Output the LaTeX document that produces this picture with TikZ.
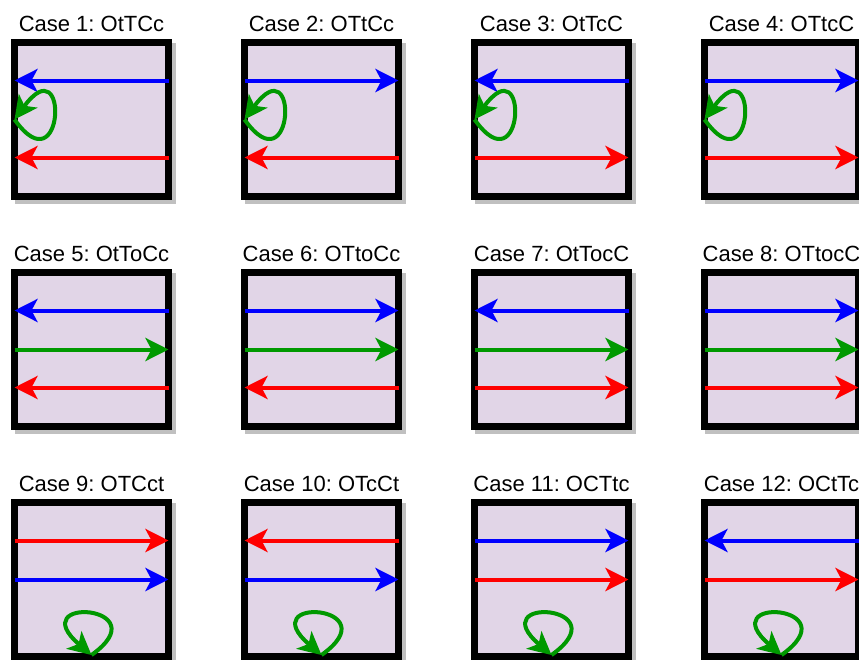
\documentclass[tikz,border=0pt]{standalone}
\usepackage{fontspec}
\setmainfont{Liberation Sans}
\usetikzlibrary{arrows.meta,shadows}
\definecolor{lav}{HTML}{E1D5E7}
\definecolor{shd}{HTML}{C0C0C0}
\definecolor{grn}{HTML}{009900}
\frenchspacing
\tikzset{
 cbox/.style={rectangle, draw=black, line width=7pt, fill=lav, minimum width=154pt, minimum height=154pt, inner sep=0pt, outer sep=0pt,
   drop shadow={shadow xshift=4pt, shadow yshift=-4pt, fill=shd, draw=shd, line width=7pt, opacity=1}},
 ctitle/.style={anchor=base, font=\fontsize{22}{26}\selectfont, inner sep=0pt},
 tipR/.style={line width=4pt, -{Stealth[length=23pt,width=23pt,inset=6pt]}},
 tipL/.style={line width=4pt, {Stealth[length=23pt,width=23pt,inset=6pt]}-},
}
\newcommand\hlarrow[4]{\draw[#4,#2] ([yshift=#3pt]#1.west) -- ([yshift=#3pt]#1.east);}
\newcommand\sideloop[1]{\coordinate (p#1) at (b#1.west);
  \draw[tipR,grn] (p#1) .. controls +(50,70) and +(55,-75) .. (p#1);}
\newcommand\bottomloop[1]{\coordinate (p#1) at ([yshift=1.5pt]b#1.south);
  \draw[tipR,grn] (p#1) .. controls +(70,-50) and +(-70,-60) .. (p#1);}
\begin{document}
\begin{tikzpicture}[x=1pt,y=-1pt]
\useasboundingbox (0,0) rectangle (859,659);
\clip (0,0) rectangle (859,659);
% row 1
\node[cbox] (b1) at (91.5,119.5) {};
\node[cbox] (b2) at (321.5,119.5) {};
\node[cbox] (b3) at (551.5,119.5) {};
\node[cbox] (b4) at (781.5,119.5) {};
% row 2
\node[cbox] (b5) at (91.5,349.5) {};
\node[cbox] (b6) at (321.5,349.5) {};
\node[cbox] (b7) at (551.5,349.5) {};
\node[cbox] (b8) at (781.5,349.5) {};
% row 3
\node[cbox] (b9) at (91.5,579.5) {};
\node[cbox] (b10) at (321.5,579.5) {};
\node[cbox] (b11) at (551.5,579.5) {};
\node[cbox] (b12) at (781.5,579.5) {};
% titles
\node[ctitle] (t1) at ([yshift=11pt]b1.north) {Case 1: OtTCc};
\node[ctitle] (t2) at ([yshift=11pt]b2.north) {Case 2: OTtCc};
\node[ctitle] (t3) at ([yshift=11pt]b3.north) {Case 3: OtTcC};
\node[ctitle] (t4) at ([yshift=11pt]b4.north) {Case 4: OTtcC};
\node[ctitle] (t5) at ([yshift=11pt]b5.north) {Case 5: OtToCc};
\node[ctitle] (t6) at ([yshift=11pt]b6.north) {Case 6: OTtoCc};
\node[ctitle] (t7) at ([yshift=11pt]b7.north) {Case 7: OtTocC};
\node[ctitle] (t8) at ([yshift=11pt]b8.north) {Case 8: OTtocC};
\node[ctitle] (t9) at ([yshift=11pt]b9.north) {Case 9: OTCct};
\node[ctitle] (t10) at ([yshift=11pt]b10.north) {Case 10: OTcCt};
\node[ctitle] (t11) at ([yshift=11pt]b11.north) {Case 11: OCTtc};
\node[ctitle] (t12) at ([yshift=11pt]b12.north) {Case 12: OCtTc};
% row 1 arrows
\hlarrow{b1}{blue}{39}{tipL} \hlarrow{b1}{red}{-38}{tipL} \sideloop{1}
\hlarrow{b2}{blue}{39}{tipR} \hlarrow{b2}{red}{-38}{tipL} \sideloop{2}
\hlarrow{b3}{blue}{39}{tipL} \hlarrow{b3}{red}{-38}{tipR} \sideloop{3}
\hlarrow{b4}{blue}{39}{tipR} \hlarrow{b4}{red}{-38}{tipR} \sideloop{4}
% row 2 arrows
\hlarrow{b5}{blue}{39}{tipL} \hlarrow{b5}{grn}{0}{tipR} \hlarrow{b5}{red}{-38}{tipL}
\hlarrow{b6}{blue}{39}{tipR} \hlarrow{b6}{grn}{0}{tipR} \hlarrow{b6}{red}{-38}{tipL}
\hlarrow{b7}{blue}{39}{tipL} \hlarrow{b7}{grn}{0}{tipR} \hlarrow{b7}{red}{-38}{tipR}
\hlarrow{b8}{blue}{39}{tipR} \hlarrow{b8}{grn}{0}{tipR} \hlarrow{b8}{red}{-38}{tipR}
% row 3 arrows
\hlarrow{b9}{red}{39}{tipR} \hlarrow{b9}{blue}{0}{tipR} \bottomloop{9}
\hlarrow{b10}{red}{39}{tipL} \hlarrow{b10}{blue}{0}{tipR} \bottomloop{10}
\hlarrow{b11}{blue}{39}{tipR} \hlarrow{b11}{red}{0}{tipR} \bottomloop{11}
\hlarrow{b12}{blue}{39}{tipL} \hlarrow{b12}{red}{0}{tipR} \bottomloop{12}
\end{tikzpicture}
\end{document}
